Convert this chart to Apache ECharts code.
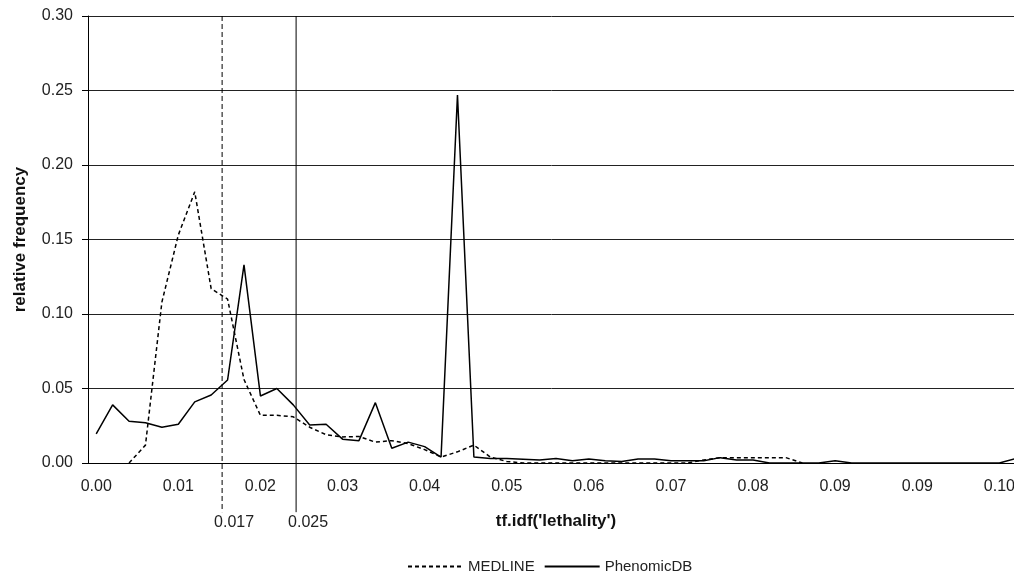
<!DOCTYPE html>
<html>
<head>
<meta charset="utf-8">
<script src="https://cdn.jsdelivr.net/npm/echarts@6/dist/echarts.min.js"></script>
<style>
  html,body{margin:0;padding:0;background:#fff;}
  #main{width:1014px;height:572px;}
</style>
</head>
<body>
<div id="main"></div>
<script>
// tick labels shown every 5th category (Excel category axis)
var xTickLabels=['0.00','0.01','0.02','0.03','0.04','0.05','0.06','0.07','0.08','0.09','0.09','0.10'];
// 57 bins, the last one cut by the picture edge
var categories=[];
for(var i=0;i<57;i++){categories.push(i);}

var medline=[
  null,null,0.000,0.012,0.108,0.153,0.182,0.117,0.110,0.056,
  0.032,0.032,0.031,0.024,0.019,0.0175,0.0178,0.014,0.015,0.013,
  0.009,0.004,0.0075,0.012,0.004,0.001,0,0,0,0,
  0,0,0,0,0,0,0,0.002,0.0036,0.0036,
  0.0036,0.0036,0.0036,0,null,null,null,null,null,null,
  null,null,null,null,null,null,null
];
var phenomicDB=[
  0.0195,0.039,0.028,0.027,0.024,0.026,0.041,0.0456,0.0557,0.133,
  0.045,0.050,0.039,0.0255,0.026,0.016,0.015,0.0405,0.0099,0.014,
  0.011,0.004,0.247,0.004,0.003,0.003,0.0025,0.002,0.003,0.0015,
  0.0027,0.0015,0.001,0.0027,0.0027,0.0015,0.0015,0.0015,0.0036,0.002,
  0.002,0,0,0,0,0.0015,0,0,0,0,
  0,0,0,0,0,0,0.003
];
// hand-drawn cut-off markers
var cutoffs=[0.017,0.025];

var chart=echarts.init(document.getElementById('main'),null,{renderer:'canvas'});

var font='"Liberation Sans", Arial, sans-serif';

function cutoffSeries(val,dashed){
  return {
    type:'line',
    xAxisIndex:1,
    clip:false,
    silent:true,
    symbol:'circle',
    symbolSize:0,
    showSymbol:true,
    lineStyle:{color:'#000',width:1,type:dashed?[5,3]:'solid'},
    data:[
      [val,0.30],
      {value:[val,-0.033],label:{show:true,position:'bottom',distance:2,offset:[12,0],
        formatter:String(val),fontFamily:font,fontSize:16,color:'#222'}}
    ]
  };
}

var option={
  animation:false,
  backgroundColor:'#fff',
  // plot runs past the right edge of the picture
  grid:{left:88,top:16,width:936,bottom:109,outerBoundsMode:'none'},
  legend:{
    left:402,top:554,
    itemWidth:55,itemGap:9,
    data:['MEDLINE','PhenomicDB'],
    itemStyle:{opacity:0},
    textStyle:{fontFamily:font,fontSize:15,color:'#222'}
  },
  xAxis:[{
    type:'category',
    data:categories,
    boundaryGap:true,
    name:"tf.idf('lethality')",
    nameLocation:'middle',
    nameGap:50,
    nameTextStyle:{fontFamily:font,fontSize:17,fontWeight:'bold',color:'#111'},
    axisLine:{lineStyle:{color:'#000',width:1}},
    axisTick:{interval:4,length:5,lineStyle:{color:'#000'}},
    axisLabel:{interval:4,margin:16,fontFamily:font,fontSize:16,color:'#222',
      formatter:function(v,idx){return xTickLabels[idx/5]||'';}},
    splitLine:{show:false}
  },{
    // hidden axis carrying the marker lines
    type:'value',
    show:false,
    min:0.0025,
    max:0.1037
  }],
  yAxis:{
    type:'value',
    min:0,max:0.3,interval:0.05,
    name:'relative frequency',
    nameLocation:'middle',
    nameGap:59,
    nameTextStyle:{fontFamily:font,fontSize:17,fontWeight:'bold',color:'#111'},
    axisLine:{show:true,lineStyle:{color:'#000',width:1}},
    axisTick:{show:true,length:6,lineStyle:{color:'#000'}},
    axisLabel:{margin:15,fontFamily:font,fontSize:16,color:'#222',
      formatter:function(v){return v.toFixed(2);}},
    splitLine:{lineStyle:{color:'#222',width:1}}
  },
  series:[{
    name:'MEDLINE',
    type:'line',
    data:medline,
    symbol:'none',
    color:'#000',
    lineStyle:{color:'#000',width:1.5,type:[4,3]}
  },{
    name:'PhenomicDB',
    type:'line',
    data:phenomicDB,
    symbol:'none',
    color:'#000',
    lineStyle:{color:'#000',width:1.5}
  },
  cutoffSeries(cutoffs[0],true),
  cutoffSeries(cutoffs[1],false)
  ]
};

chart.setOption(option);
</script>
</body>
</html>
